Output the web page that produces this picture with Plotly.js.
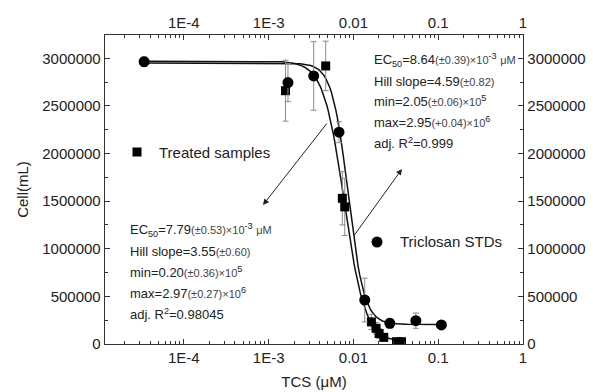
<!DOCTYPE html>
<html>
<head>
<meta charset="utf-8">
<script src="https://cdn.plot.ly/plotly-3.0.1.min.js"></script>
<style>
html,body{margin:0;padding:0;background:#fff;}
#chart{width:593px;height:392px;}
</style>
</head>
<body>
<div id="chart"></div>
<script>
// ---- Data ----
// Triclosan STDs (circles)
const stdX   = [3.4e-5, 1.69e-3, 3.4e-3, 6.76e-3, 0.0136, 0.0269, 0.0545, 0.109];
const stdY   = [2965000, 2745000, 2815000, 2224000, 462000, 217000, 245000, 200000];
const stdErr = [50000, 200000, 360000, 110000, 230000, 50000, 80000, 30000];
// Treated samples (squares)
const trtX   = [1.58e-3, 4.71e-3, 7.4e-3, 7.9e-3, 0.0163, 0.0185, 0.0201, 0.0228, 0.0322, 0.0369];
const trtY   = [2660000, 2920000, 1530000, 1440000, 232000, 165000, 110000, 70000, 24000, 24000];
const trtErr = [320000, 260000, 280000, 300000, 80000, 60000, 50000, 40000, 15000, 15000];
// Fit parameters printed on the chart (Hill model)
const stdFit = {ec50: 8.64e-3, hill: 4.59, min: 2.05e5, max: 2.95e6, from: 3.4e-5, to: 0.109};
const trtFit = {ec50: 7.79e-3, hill: 3.55, min: 0.20e5, max: 2.97e6, from: 3.4e-5, to: 0.0369};
// Tick labels
const xTickVals = [1e-4, 1e-3, 0.01, 0.1, 1];
const xTickText = ['1E-4', '1E-3', '0.01', '0.1', '1'];
const yTickVals = [0, 500000, 1000000, 1500000, 2000000, 2500000, 3000000];

function hillCurve(p) {
  const xs = [], ys = [];
  const a = Math.log10(p.from), b = Math.log10(p.to), n = 200;
  for (let i = 0; i <= n; i++) {
    const x = Math.pow(10, a + (b - a) * i / n);
    xs.push(x);
    ys.push(p.min + (p.max - p.min) / (1 + Math.pow(x / p.ec50, p.hill)));
  }
  return {xs, ys};
}
const c1 = hillCurve(stdFit), c2 = hillCurve(trtFit);

const xRange = [-4.93, 0];
const yRange = [0, 3245000];

// minor log tick positions (2..9 in each decade inside the range)
const xMinorVals = [];
for (let d = -5; d < 0; d++) {
  for (let k = 2; k <= 9; k++) {
    const v = k * Math.pow(10, d);
    if (Math.log10(v) > xRange[0]) xMinorVals.push(v);
  }
}
const yMinorVals = [];
for (let v = 250000; v < yRange[1]; v += 500000) yMinorVals.push(v);

const FONT = 'Liberation Sans, Arial, sans-serif';
const L = 105, R = 523, T = 35, B = 344;
const px = x => (x - L) / (R - L);
const py = y => (B - y) / (B - T);

const errStyle = a => ({type: 'data', array: a, visible: true, color: '#8a8a8a', thickness: 1, width: 3});
const dummy = (xa, ya) => ({x: [1], y: [0], xaxis: xa, yaxis: ya, mode: 'markers', marker: {opacity: 0}, hoverinfo: 'skip', showlegend: false});

const traces = [
  {x: c1.xs, y: c1.ys, mode: 'lines', line: {color: '#111', width: 1.5}, hoverinfo: 'skip', showlegend: false},
  {x: c2.xs, y: c2.ys, mode: 'lines', line: {color: '#111', width: 1.5}, hoverinfo: 'skip', showlegend: false},
  {x: trtX, y: trtY, mode: 'markers', name: 'Treated samples', error_y: errStyle(trtErr),
   marker: {symbol: 'square', size: 9, color: '#000'}, showlegend: false},
  {x: stdX, y: stdY, mode: 'markers', name: 'Triclosan STDs', error_y: errStyle(stdErr),
   marker: {symbol: 'circle', size: 11, color: '#000'}, showlegend: false},
  dummy('x2', 'y2'), dummy('x3', 'y3'), dummy('x4', 'y4')
];

const small = s => '<span style="font-size:11px;color:#444">' + s + '</span>';
function textLines(x0, ys, lines) {
  return lines.map((t, i) => ({
    xref: 'paper', yref: 'paper', x: px(x0), y: py(ys[i]), xanchor: 'left', yanchor: 'middle',
    text: t, showarrow: false, font: {family: FONT, size: 13, color: '#222'}
  }));
}
const rightLines = [
  'EC<sub>50</sub>=8.64' + small('(±0.39)×10') + '<sup>-3</sup> ' + small('μM'),
  'Hill slope=4.59' + small('(±0.82)'),
  'min=2.05' + small('(±0.06)×10') + '<sup>5</sup>',
  'max=2.95' + small('(+0.04)×10') + '<sup>6</sup>',
  'adj. R<sup>2</sup>=0.999'
];
const leftLines = [
  'EC<sub>50</sub>=7.79' + small('(±0.53)×10') + '<sup>-3</sup> ' + small('μM'),
  'Hill slope=3.55' + small('(±0.60)'),
  'min=0.20' + small('(±0.36)×10') + '<sup>5</sup>',
  'max=2.97' + small('(±0.27)×10') + '<sup>6</sup>',
  'adj. R<sup>2</sup>=0.98045'
];

const annotations = [].concat(
  textLines(372, [60, 81, 101, 122, 143], rightLines),
  textLines(128, [230, 251, 272, 293, 314], leftLines),
  [
    {xref: 'paper', yref: 'paper', x: px(157), y: py(152), xanchor: 'left', yanchor: 'middle',
     text: 'Treated samples', showarrow: false, font: {family: FONT, size: 15, color: '#222'}},
    {xref: 'paper', yref: 'paper', x: px(398), y: py(242), xanchor: 'left', yanchor: 'middle',
     text: 'Triclosan STDs', showarrow: false, font: {family: FONT, size: 15, color: '#222'}},
    // arrows (tail -> head)
    {xref: 'paper', yref: 'paper', x: px(263), y: py(205), ax: 328 - 263, ay: 122 - 205, axref: 'pixel', ayref: 'pixel',
     text: '', showarrow: true, arrowhead: 2, arrowsize: 1.2, arrowwidth: 1, arrowcolor: '#222'},
    {xref: 'paper', yref: 'paper', x: px(402), y: py(169), ax: 353 - 402, ay: 237 - 169, axref: 'pixel', ayref: 'pixel',
     text: '', showarrow: true, arrowhead: 2, arrowsize: 1.2, arrowwidth: 1, arrowcolor: '#222'}
  ]
);

const shapes = [
  {type: 'rect', xref: 'paper', yref: 'paper', xsizemode: 'pixel', ysizemode: 'pixel',
   xanchor: px(137), yanchor: py(152), x0: -4.5, x1: 4.5, y0: -4.5, y1: 4.5,
   fillcolor: '#000', line: {width: 0}},
  {type: 'circle', xref: 'paper', yref: 'paper', xsizemode: 'pixel', ysizemode: 'pixel',
   xanchor: px(377), yanchor: py(242), x0: -5.5, x1: 5.5, y0: -5.5, y1: 5.5,
   fillcolor: '#000', line: {width: 0}}
];

const axCommon = {
  showgrid: false, zeroline: false, showline: true, linecolor: '#333', linewidth: 1.3,
  ticks: 'inside', ticklen: 5, tickwidth: 1, tickcolor: '#333',
  tickfont: {family: FONT, size: 15, color: '#222'}
};
const minorAx = {
  showgrid: false, zeroline: false, showline: false, showticklabels: false,
  ticks: 'inside', ticklen: 3, tickwidth: 1, tickcolor: '#333', tickmode: 'array'
};

const layout = {
  width: 593, height: 392,
  margin: {l: L, r: 593 - R, t: T, b: 392 - B},
  paper_bgcolor: '#fff', plot_bgcolor: '#fff',
  showlegend: false,
  xaxis: Object.assign({}, axCommon, {
    type: 'log', range: xRange, tickmode: 'array', tickvals: xTickVals, ticktext: xTickText,
    title: {text: 'TCS (μM)', font: {family: FONT, size: 15, color: '#222'}, standoff: 11}
  }),
  xaxis2: Object.assign({}, axCommon, {
    type: 'log', range: xRange, overlaying: 'x', side: 'top', anchor: 'y',
    tickmode: 'array', tickvals: xTickVals, ticktext: xTickText
  }),
  xaxis3: Object.assign({}, minorAx, {type: 'log', range: xRange, overlaying: 'x', side: 'bottom', anchor: 'y', tickvals: xMinorVals}),
  xaxis4: Object.assign({}, minorAx, {type: 'log', range: xRange, overlaying: 'x', side: 'top', anchor: 'y', tickvals: xMinorVals}),
  yaxis: Object.assign({}, axCommon, {
    range: yRange, tickmode: 'array', tickvals: yTickVals, tickformat: 'd',
    title: {text: 'Cell(mL)', font: {family: FONT, size: 15, color: '#222'}, standoff: 10}
  }),
  yaxis2: Object.assign({}, axCommon, {
    range: yRange, overlaying: 'y', side: 'right', anchor: 'x',
    tickmode: 'array', tickvals: yTickVals, tickformat: 'd'
  }),
  yaxis3: Object.assign({}, minorAx, {range: yRange, overlaying: 'y', side: 'left', anchor: 'x', tickvals: yMinorVals}),
  yaxis4: Object.assign({}, minorAx, {range: yRange, overlaying: 'y', side: 'right', anchor: 'x', tickvals: yMinorVals}),
  annotations: annotations,
  shapes: shapes
};

Plotly.newPlot('chart', traces, layout, {staticPlot: true, displayModeBar: false});
</script>
</body>
</html>
